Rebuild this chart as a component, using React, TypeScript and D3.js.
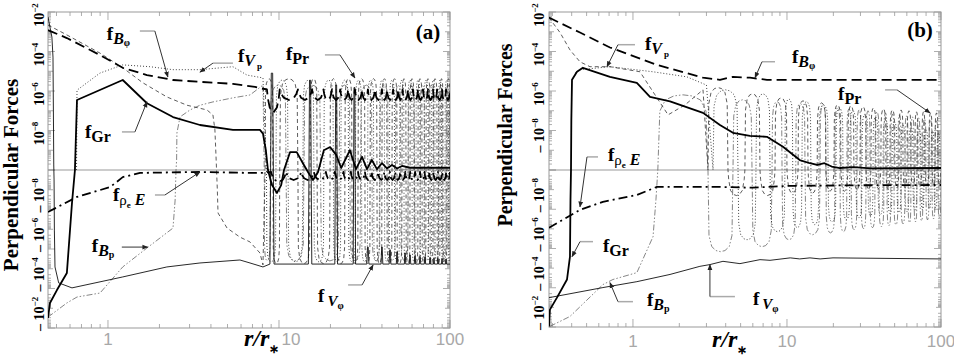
import React from 'react';
import * as d3 from 'd3';

type P = [number, number];

const W = 954;
const H = 357;
const SERIF = "'Liberation Serif','Times New Roman',Times,serif";
const SANS = "'Liberation Sans',Arial,Helvetica,sans-serif";

// ---------------- axis data ----------------
const xTickValues = [1, 10, 100];
const xTickLabels = ['1', '10', '100'];
const yLabelExps = [-2, -4, -6, -8];

// ---------------- panel (a) series: [r/r*, force] ----------------
const fBphiA: P[] = [[0.446, 1.2e-3], [0.575, 4.8e-4], [0.898, 6.6e-5], [1.22, 1.5e-5], [1.69, 6.4e-6], [2.4, 3.6e-6], [3.45, 2.9e-6], [5.38, 2.3e-6], [7.24, 1.6e-6], [8.06, 1.3e-6]];
const fBphiA_nodes = [8.5, 10.1, 12.9, 15.6, 18.2, 20.4, 22.8, 25.4, 27.8, 30.6, 33.1, 36.4, 40.0, 42.8, 46.5, 49.8, 52.8, 56.8, 60.7, 65.0, 69.5, 74.4, 79.6, 84.0, 89.8, 94.8, 100];
const fBphiA_cusp = [1.2e-6];
const fBphiA_mid = [8e-8, 3.5e-7];

const fPrA: P[] = [[0.446, 2.2e-3], [0.575, 6.9e-4], [0.898, 8.3e-5], [1.22, 1.5e-5], [1.6, 2.6e-6], [2.21, 5e-7], [2.9, 1.9e-7], [3.79, 1.1e-7], [4.11, 6.1e-8], [4.22, 1.07e-8], [4.28, 5.8e-10], [4.36, -1e-9], [4.4, -1.5e-8], [4.97, -8.7e-8], [5.91, -2.5e-7], [6.77, -4.4e-7], [7.74, -1.6e-6], [8.06, -6.4e-6]];
const fPrA_nodes = [8.3, 9.22, 10.1, 12.9, 15.2, 16.7, 19.9, 21.8, 24.3, 26.7, 29.0, 31.8, 34.1, 37.4, 40.0, 42.8, 45.8, 49.0, 52.4, 55.3, 58.4, 61.6, 65.0, 68.6, 72.4, 76.4, 79.6, 84.0, 87.5, 91.0, 96.0, 100];
const fPrA_peaks = [4.2e-6, -5.5e-6];

const fVpA: P[] = [[0.655, 5e-11], [0.659, 1.1e-6], [0.898, 8.1e-6], [1.22, 2.1e-5], [1.76, 1.7e-5], [2.4, 1.2e-5], [3.45, 1.2e-5], [5.38, 1.7e-5], [6.5, 6.4e-6], [8.06, 4.6e-6]];
const fVpA_nodes = [8.45, 9.6, 11.3, 13.8, 16.0, 18.3, 20.8, 23.0, 25.5, 28.0, 30.4, 33.0, 35.8, 38.7, 41.4, 44.3, 47.4, 50.7, 53.8, 56.8, 60.0, 63.3, 66.8, 70.5, 74.4, 78.0, 81.8, 85.7, 89.2, 93.5, 98.0, 100];
const fVpA_peaks = [-4.5e-6, 3.6e-6];

const fBpA: P[] = [[0.446, -2.8e-3], [0.575, -5.4e-4], [0.659, -2.7e-4], [0.898, -1.7e-4], [1.22, -8.1e-6], [1.69, -8.9e-7], [2.4, -8.7e-8], [2.47, -3.3e-9], [2.5, 5e-11], [2.52, 3.2e-10], [2.53, 7.5e-9], [2.64, 4.9e-8], [3.02, 1.1e-7], [3.45, 1.9e-7], [4.11, 2.8e-7], [5.38, 4.5e-7], [6.77, 6.3e-7], [8.06, 2e-6]];
const fBpA_nodes = [8.2, 8.9, 11.0, 14.0, 17.5, 22.5, 26.0, 30.0, 35.0, 39.0, 43.5, 48.0, 51.5, 57.0, 62.0, 67.0, 71.0, 75.0, 80.5, 86.0, 90.0, 95.0, 100];
const fBpA_peaks = [-4e-6, 2e-6];

const fGrA: P[] = [[0.446, -3.1e-3], [0.458, -5.4e-4], [0.503, -1.2e-4], [0.575, -1.65e-5], [0.616, -4.7e-9], [0.641, 5e-11], [0.659, 3.5e-7], [1.22, 3.6e-6], [1.69, 2.4e-7], [2.4, 4.8e-8], [3.45, 1.9e-8], [5.38, 1.07e-8], [7.74, 1.07e-8], [8.06, 7e-9], [8.38, 1e-9], [8.62, 5e-11], [9.1, -5.8e-10], [9.73, -1.45e-9], [10.3, -5.8e-10], [10.7, 5e-11], [11.6, 8e-10], [12.7, 8e-10], [13.8, 2.2e-10], [14.8, -1.3e-10], [15.8, -3.2e-10], [16.9, -1.3e-10], [18.3, 1e-9], [19.9, 1.45e-9], [21.6, 5.8e-10], [23.1, 1.26e-10], [26.0, 1e-9], [28.2, 1.1e-10], [30.6, 4.6e-10], [32.7, 1.1e-10], [34.9, 3.2e-10], [37.4, 1.1e-10], [40.0, 2.2e-10], [42.8, 1.2e-10], [45.8, 1.8e-10], [49.0, 1.2e-10], [52.4, 1.6e-10], [58.4, 1.3e-10], [100, 1.3e-10]];

const fVphiA: P[] = [[0.446, 5.6e-3], [0.47, 5.4e-4], [0.477, 5.2e-5], [0.48, 3.4e-8], [0.482, 1.8e-10], [0.484, -3.2e-10], [0.486, -1.1e-7], [0.49, -8.1e-6], [0.515, -5.2e-5], [0.616, -9.3e-5], [1.22, -2.6e-5], [2.21, -8.1e-6], [3.45, -5.1e-6], [5.91, -3.6e-6], [6.77, -5.1e-6], [8.06, -8.1e-6]];
const fVphiA_level = -5.8e-6;
// [r, peak value, half width in decades]
const fVphiA_spikes: [number, number, number][] = [[9.1, 8e-6, 0.012], [15.2, 3.5e-6, 0.01], [21.6, 2e-6, 0.008], [27.6, 1.5e-6, 0.007], [33.1, -8e-7, 0.006], [40.0, -8e-7, 0.005], [44.6, -1.1e-6, 0.005], [49.0, -1.4e-6, 0.004], [54.6, -1.6e-6, 0.004], [58.4, -2e-6, 0.004], [62.4, -2.2e-6, 0.004], [66.8, -2.4e-6, 0.004], [71.4, -2.5e-6, 0.004], [76.4, -2.7e-6, 0.003], [80.6, -2.8e-6, 0.003], [85.1, -3e-6, 0.003], [89.8, -3e-6, 0.003], [94.8, -3.2e-6, 0.003]];

const fRhoEA: P[] = [[0.446, -1.35e-8], [0.659, -2.3e-9], [1.03, -7.3e-10], [1.22, -2.3e-10], [1.54, -1.4e-10], [3.45, -1.26e-10], [6.77, -1.4e-10], [8.06, -1.4e-10]];
const fRhoEA_nodes = [9.0, 11.0, 13.5, 16.0, 18.8, 21.2, 23.8, 26.3, 29.0, 31.8, 34.8, 38.0, 41.3, 44.5, 47.8, 51.2, 54.8, 58.5, 62.5, 66.8, 71.0, 75.5, 80.0, 85.0, 90.0, 95.0, 100];
const fRhoEA_cusp = [-1.26e-10];
const fRhoEA_mid = [-4e-10, -3.2e-10];

// ---------------- panel (b) series ----------------
const fBphiB: P[] = [[0.285, 5.2e-3], [0.453, 9.1e-4], [0.709, 1.6e-4], [1.43, 2.1e-5], [2.85, 4.7e-6], [3.67, 3.7e-6], [4.46, 5.2e-6], [5.75, 4.7e-6], [7.41, 3.7e-6], [100, 3.7e-6]];

const fPrB: P[] = [[0.285, 5.2e-3], [0.336, 9.1e-4], [0.39, 1.2e-4], [0.453, 3e-5], [0.526, 1.7e-5], [0.709, 1.7e-5], [1.11, 9.4e-6], [1.39, 6.4e-7], [1.69, 6.2e-8], [2.18, 2e-7], [2.85, 1.15e-6]];
const fPrB_nodes = [3.07, 4.14, 5.33, 6.68, 8.36, 10.0, 11.8, 13.7, 15.7, 17.9, 20.2, 22.4, 24.9, 27.2, 29.8, 32.6, 35.1, 37.8, 40.7, 43.9, 46.6, 50.2, 53.4, 56.7, 60.2, 63.8, 67.8, 70.9, 75.3, 78.7, 83.6, 87.5, 91.5, 95.7, 100];
const fPrB_peaks = [1.5e-6, -2e-9, 7.2e-7, -2e-9, 4.5e-7, -1.5e-9, 3.2e-7, -1.5e-9, 2.5e-7, -1.2e-9, 2e-7, -1.2e-9, 1.8e-7, -1e-9, 1.6e-7, -1e-9, 1.4e-7, -9e-10, 1.25e-7, -9e-10, 1.1e-7, -8e-10, 1.1e-7, -8e-10, 1e-7, -7e-10, 8.8e-8, -7e-10, 8.8e-8, -6e-10, 7.8e-8, -6e-10, 7.8e-8, -6e-10];

const fVpB: P[] = [[0.42, 8e-6], [0.453, 1.2e-5], [0.709, 1.7e-5], [1.35, 9.4e-6], [2.24, 5.2e-6], [3.0, 2e-6]];
const fVpB_nodes = [3.31, 4.81, 6.29, 7.76, 9.7, 10.9, 12.5, 14.3, 16.1, 18.5, 20.8, 23.1, 25.6, 28.1, 30.7, 33.6, 36.2, 39.0, 42.0, 45.3, 48.1, 51.8, 55.0, 58.4, 62.0, 65.8, 69.8, 74.1, 77.6, 82.4, 86.1, 90.2, 94.2, 98.6];
const fVpB_peaks = [1.15e-6, -3.6e-7, 7.2e-7, -1.4e-7, 4e-7, -8.7e-8, 2.9e-7, -6.2e-8, 2e-7, -4.4e-8, 1.4e-7, -3.5e-8, 1e-7, -2.8e-8, 6.9e-8, -2.2e-8, 4.9e-8, -1.9e-8, 3.5e-8, -1.7e-8, 2.7e-8, -1.5e-8, 1.9e-8, -1.35e-8, 1.5e-8, -1.2e-8, 1.2e-8, -1.07e-8, 1.07e-8, -9.5e-9, 9.5e-9, -8.5e-9, 7.6e-9];

const fBpB: P[] = [[0.289, -9.3e-3], [0.39, -2.9e-3], [0.638, -6.9e-5], [0.741, -3.8e-5], [1.06, -1.7e-5], [1.35, -2.5e-7], [1.41, -3.3e-9]];
const fBpB_nodes = [1.45, 3.07, 4.46, 5.93, 8.0, 9.29, 11.4, 13.1, 16.4, 17.9, 20.5, 22.1, 24.5, 26.1, 28.5, 30.3, 32.6, 34.6, 37.3, 39.6, 42.6, 44.6, 47.3, 49.5, 52.6, 55.0, 58.4, 61.1, 63.8, 66.8, 69.8, 73.1, 76.4, 79.9, 83.6, 87.5, 91.5, 95.7, 100];
const fBpB_peaks = [6.4e-7, -1.45e-6, 3.6e-7, -8.1e-7, 2.9e-7, -3.6e-7, 2.3e-7, -2e-7, 1.8e-7, -1.6e-7, 1.4e-7, -1.4e-7, 1.25e-7, -1.1e-7, 1.1e-7, -9.8e-8, 1e-7, -8.7e-8, 8.8e-8, -7.8e-8, 7.8e-8, -6.9e-8, 6.9e-8, -6.2e-8, 6.2e-8, -5.5e-8, 5.5e-8, -4.9e-8, 4.9e-8, -4.4e-8, 4.4e-8, -3.9e-8, 3.9e-8, -3.5e-8, 3.5e-8, -3.1e-8, 3.1e-8, -2.8e-8];

const fGrB: P[] = [[0.285, -9.3e-3], [0.289, -1.3e-3], [0.321, -3.2e-4], [0.373, -3.8e-5], [0.39, -2.6e-6], [0.393, -3.3e-9], [0.396, 5e-11], [0.398, 3.4e-8], [0.402, 3.7e-6], [0.433, 9.4e-6], [0.473, 1.5e-5], [0.709, 5.2e-6], [1.06, 2.6e-6], [1.29, 5.1e-7], [1.74, 3e-7], [2.85, 7.8e-8], [3.67, 1.9e-8], [4.46, 7.6e-9], [5.75, 5.4e-9], [7.41, 4.8e-9], [9.42, 1.5e-9], [12.1, 3.2e-10], [14.1, 2.2e-10], [15.7, 1.8e-10], [17.5, 2.2e-10], [19.5, 1.5e-10], [22.1, 1.26e-10], [27, 1.4e-10], [35, 1.2e-10], [100, 1.26e-10]];

const fVphiB: P[] = [[0.285, -3.2e-4], [0.638, -9.8e-5], [1.06, -4.9e-5], [1.74, -2.1e-5], [2.72, -8.1e-6], [3.16, -6.6e-6], [3.84, -4.5e-6], [4.95, -5.9e-6], [6.68, -3.7e-6], [7.76, -4e-6], [10.5, -3e-6], [12.1, -3.4e-6], [14.1, -3e-6], [16.4, -3.4e-6], [19.9, -3e-6], [100, -3.4e-6]];

const fRhoEB: P[] = [[0.285, -8.7e-8], [0.453, -1.07e-8], [0.638, -4.2e-9], [1.06, -1.86e-9], [1.43, -7.3e-10], [3.67, -7.3e-10], [6, -8e-10], [10, -6.5e-10], [30, -6e-10], [100, -5.8e-10]];

// ---------------- shape templates (fraction of the span, fraction of the peak) ----------------
const ARCH: P[] = [[0, 0], [0.04, 0.15], [0.15, 0.55], [0.32, 0.88], [0.5, 1], [0.68, 0.88], [0.85, 0.55], [0.96, 0.15], [1, 0]];
const SCALLOP: P[] = [[0, 0], [0.08, 0.4], [0.22, 0.78], [0.5, 1], [0.78, 0.78], [0.92, 0.4], [1, 0]];

function arches(nodes: number[], peaks: number[]): P[] {
  const out: P[] = [];
  for (let i = 0; i < nodes.length - 1; i++) {
    const a = Math.log10(nodes[i]);
    const b = Math.log10(nodes[i + 1]);
    const pk = peaks[i % peaks.length];
    ARCH.forEach(([t, s], k) => {
      if (i > 0 && k === 0) return;
      out.push([Math.pow(10, a + (b - a) * t), pk * s]);
    });
  }
  return out;
}

function scallops(nodes: number[], cusp: number[], mid: number[]): P[] {
  const out: P[] = [];
  for (let i = 0; i < nodes.length - 1; i++) {
    const a = Math.log10(nodes[i]);
    const b = Math.log10(nodes[i + 1]);
    const c = cusp[Math.min(i, cusp.length - 1)];
    const m = mid[Math.min(i, mid.length - 1)];
    const sg = Math.sign(c);
    const lc = Math.log10(Math.abs(c));
    const lm = Math.log10(Math.abs(m));
    SCALLOP.forEach(([t, s], k) => {
      if (i > 0 && k === 0) return;
      out.push([Math.pow(10, a + (b - a) * t), sg * Math.pow(10, lc + (lm - lc) * s)]);
    });
  }
  return out;
}

function spikes(level: number, list: [number, number, number][], end: number): P[] {
  const out: P[] = [];
  list.forEach(([r, pk, w]) => {
    out.push([r * Math.pow(10, -w), level]);
    out.push([r * Math.pow(10, -w / 3), pk]);
    out.push([r * Math.pow(10, w / 3), pk]);
    out.push([r * Math.pow(10, w), level]);
  });
  out.push([end, level]);
  return out;
}

// ---------------- styles ----------------
type Kind = 'Bphi' | 'Pr' | 'Vp' | 'Gr' | 'Vphi' | 'rhoE' | 'Bp';
const STYLE: Record<Kind, { stroke: string; width: number; dash?: string }> = {
  Bphi: { stroke: '#000', width: 1.8, dash: '10,5' },
  Pr: { stroke: '#333', width: 0.8, dash: '4,3' },
  Vp: { stroke: '#444', width: 1, dash: '1,2' },
  Gr: { stroke: '#000', width: 1.8 },
  Vphi: { stroke: '#111', width: 0.9 },
  rhoE: { stroke: '#000', width: 1.8, dash: '9,4,2,4' },
  Bp: { stroke: '#666', width: 0.8, dash: '6,2,1.5,2,1.5,2' },
};

const seriesA: { kind: Kind; data: P[] }[] = [
  { kind: 'Bp', data: [...fBpA, ...arches(fBpA_nodes, fBpA_peaks)] },
  { kind: 'Vp', data: [...fVpA, ...arches(fVpA_nodes, fVpA_peaks)] },
  { kind: 'Pr', data: [...fPrA, ...arches(fPrA_nodes, fPrA_peaks)] },
  { kind: 'Vphi', data: [...fVphiA, ...spikes(fVphiA_level, fVphiA_spikes, 100)] },
  { kind: 'rhoE', data: [...fRhoEA, ...scallops(fRhoEA_nodes, fRhoEA_cusp, fRhoEA_mid)] },
  { kind: 'Bphi', data: [...fBphiA, ...scallops(fBphiA_nodes, fBphiA_cusp, fBphiA_mid)] },
  { kind: 'Gr', data: fGrA },
];

const seriesB: { kind: Kind; data: P[] }[] = [
  { kind: 'Bp', data: [...fBpB, ...arches(fBpB_nodes, fBpB_peaks)] },
  { kind: 'Vp', data: [...fVpB, ...arches(fVpB_nodes, fVpB_peaks)] },
  { kind: 'Pr', data: [...fPrB, ...arches(fPrB_nodes, fPrB_peaks)] },
  { kind: 'Vphi', data: fVphiB },
  { kind: 'rhoE', data: fRhoEB },
  { kind: 'Bphi', data: fBphiB },
  { kind: 'Gr', data: fGrB },
];

// annotations: tip in data coords, then pixel offsets of elbow, line start, and label
type Ann = { kind: Kind; tip: P; elbow: P; start: P; label: P };
const annA: Ann[] = [
  { kind: 'Bphi', tip: [2.24, 5.1e-6], elbow: [-13, -46], start: [-28, -46], label: [-61, -37] },
  { kind: 'Vp', tip: [3.45, 9e-6], elbow: [13, -9], start: [33, -9], label: [38, -10] },
  { kind: 'Pr', tip: [27.8, 4.6e-6], elbow: [-15, -23], start: [-30, -23], label: [-69, -18] },
  { kind: 'Gr', tip: [1.69, 2.8e-7], elbow: [-12, 30], start: [-25, 30], label: [-62, 36] },
  { kind: 'rhoE', tip: [3.45, -1.26e-10], elbow: [-35, 23], start: [-45, 23], label: [-87, 29] },
  { kind: 'Bp', tip: [1.71, -8e-7], elbow: [-26, 0], start: [-26, 0], label: [-56, 5] },
  { kind: 'Vphi', tip: [35.5, -6.4e-6], elbow: [-11, 20], start: [-25, 20], label: [-55, 37] },
];
const annB: Ann[] = [
  { kind: 'Vp', tip: [0.678, 1.7e-5], elbow: [11, -22], start: [28, -22], label: [38, -17] },
  { kind: 'rhoE', tip: [0.453, -7.6e-9], elbow: [7, -50], start: [18, -50], label: [28, -46] },
  { kind: 'Gr', tip: [0.402, -2.6e-6], elbow: [8, -15], start: [21, -15], label: [31, -5] },
  { kind: 'Bp', tip: [0.709, -5.5e-5], elbow: [8, 19], start: [23, 19], label: [37, 23] },
  { kind: 'Bphi', tip: [6.2, 4.7e-6], elbow: [7, -16], start: [20, -16], label: [37, -15] },
  { kind: 'Pr', tip: [84.9, 7.8e-8], elbow: [-33, -23], start: [-45, -23], label: [-92, -13] },
  { kind: 'Vphi', tip: [3.16, -6.6e-6], elbow: [0, 32], start: [25, 32], label: [43, 40] },
];

function LabelText({ kind, x, y }: { kind: Kind; x: number; y: number }) {
  const common = { x, y, fontFamily: SERIF, fontWeight: 'bold' as const, fontSize: 19, fill: '#000' };
  switch (kind) {
    case 'Bphi':
      return (<text {...common}>f<tspan fontStyle="italic" fontSize={16} dy={4}>B</tspan><tspan fontSize={10} dy={2}>φ</tspan></text>);
    case 'Vp':
      return (<text {...common}>f<tspan fontStyle="italic" fontSize={16} dy={4}>V</tspan><tspan fontSize={9} dy={3} dx={2}>p</tspan></text>);
    case 'Pr':
      return (<text {...common}>f<tspan fontSize={16} dy={4}>Pr</tspan></text>);
    case 'Gr':
      return (<text {...common}>f<tspan fontSize={16} dy={4}>Gr</tspan></text>);
    case 'rhoE':
      return (<text {...common}>f<tspan fontSize={15} fontWeight="normal" dy={4}>ρ</tspan><tspan fontSize={9} dy={3}>e</tspan><tspan fontStyle="italic" fontSize={16} dy={-3}> E</tspan></text>);
    case 'Bp':
      return (<text {...common}>f<tspan fontStyle="italic" fontSize={16} dy={4}>B</tspan><tspan fontSize={10} dy={2}>p</tspan></text>);
    case 'Vphi':
      return (<text {...common}>f<tspan fontStyle="italic" fontSize={15} dy={4} dx={3}>V</tspan><tspan fontSize={10} dy={3}>φ</tspan></text>);
  }
}

type Cfg = {
  id: string;
  left: number; right: number; top: number; center: number; bottom: number;
  xDomain: [number, number];
  series: { kind: Kind; data: P[] }[];
  ann: Ann[];
  yLabelX: number;
  dashTop8: boolean;
  tag: string; tagX: number; tagY: number;
  xLabelY: number; xLabelDx: number[];
  titleX: number; titleY: number; titleSize: number;
  axisTitleX: number; axisTitleY: number;
};

function Panel({ c }: { c: Cfg }) {
  const x = d3.scaleLog().domain(c.xDomain).range([c.left, c.right]);
  const up = d3.scaleLinear().domain([-10, -2]).range([c.center, c.top]);
  const dn = d3.scaleLinear().domain([-10, -2]).range([c.center, c.bottom]);
  const y = (v: number) => {
    const a = Math.abs(v);
    if (a <= 1e-10) return c.center;
    const e = Math.min(Math.log10(a), -2);
    return v > 0 ? up(e) : dn(e);
  };
  const line = d3.line<P>().x((d) => x(d[0])).y((d) => y(d[1]));

  const yTicks: { p: number; len: number }[] = [];
  for (let e = -10; e <= -2; e++) {
    yTicks.push({ p: e, len: e % 2 === 0 ? 7 : 5 });
    if (e < -2) for (let k = 2; k <= 9; k++) yTicks.push({ p: e + Math.log10(k), len: 3 });
  }
  const xTicks: { v: number; len: number }[] = [];
  for (let d = -1; d <= 2; d++) {
    for (let k = 1; k <= 9; k++) {
      const v = k * Math.pow(10, d);
      if (v >= c.xDomain[0] * 0.999 && v <= c.xDomain[1] * 1.001) xTicks.push({ v, len: k === 1 ? 8 : 4 });
    }
  }
  const tickColor = '#999';
  return (
    <g>
      <defs>
        <clipPath id={`clip-${c.id}`}>
          <rect x={c.left} y={c.top} width={c.right - c.left} height={c.bottom - c.top} />
        </clipPath>
      </defs>
      <rect x={c.left} y={c.top} width={c.right - c.left} height={c.bottom - c.top} fill="none" stroke="#999" strokeWidth={1} />
      <line x1={c.left} x2={c.right} y1={c.center} y2={c.center} stroke="#999" strokeWidth={1} />
      {yTicks.map((t, i) => (
        <g key={`yt${i}`} stroke={tickColor} strokeWidth={0.8}>
          <line x1={c.left} x2={c.left + t.len} y1={up(t.p)} y2={up(t.p)} />
          <line x1={c.left} x2={c.left + t.len} y1={dn(t.p)} y2={dn(t.p)} />
          <line x1={c.right - t.len} x2={c.right} y1={up(t.p)} y2={up(t.p)} />
          <line x1={c.right - t.len} x2={c.right} y1={dn(t.p)} y2={dn(t.p)} />
        </g>
      ))}
      {xTicks.map((t, i) => (
        <g key={`xt${i}`} stroke={tickColor} strokeWidth={0.8}>
          <line x1={x(t.v)} x2={x(t.v)} y1={c.bottom} y2={c.bottom - t.len} />
          <line x1={x(t.v)} x2={x(t.v)} y1={c.top} y2={c.top + t.len} />
        </g>
      ))}
      {xTickValues.map((v, i) => (
        <text key={`xl${i}`} x={x(v) + c.xLabelDx[i]} y={c.xLabelY} textAnchor="middle" fontFamily={SANS} fontSize={17} fill="#a8a8a8">{xTickLabels[i]}</text>
      ))}
      {yLabelExps.map((e) => {
        const dash = c.dashTop8 && e === -8;
        const ty = dash ? up(e) + 22 : up(e) + 3;
        return (
          <text key={`yu${e}`} transform={`translate(${c.yLabelX},${ty}) rotate(-90)`} textAnchor={dash ? 'start' : 'middle'} fontFamily={SERIF} fontWeight="bold" fontSize={14} fill="#000">
            {dash ? '– 10' : '10'}<tspan fontSize={9} dy={-6}>{`−${-e}`}</tspan>
          </text>
        );
      })}
      {yLabelExps.map((e) => (
        <text key={`yd${e}`} transform={`translate(${c.yLabelX},${dn(e) + 3}) rotate(-90)`} textAnchor="start" fontFamily={SERIF} fontWeight="bold" fontSize={14} fill="#000">
          {'– 10'}<tspan fontSize={9} dy={-6}>{`−${-e}`}</tspan>
        </text>
      ))}
      <text transform={`translate(${c.titleX},${c.titleY}) rotate(-90)`} textAnchor="middle" fontFamily={SERIF} fontWeight="bold" fontSize={c.titleSize} fill="#000">Perpendicular Forces</text>
      <text x={c.axisTitleX} y={c.axisTitleY} fontFamily={SERIF} fontWeight="bold" fontStyle="italic" fontSize={24} fill="#000">r/r<tspan fontSize={12} dy={7} fontStyle="normal">∗</tspan></text>
      <text x={c.tagX} y={c.tagY} textAnchor="middle" fontFamily={SERIF} fontWeight="bold" fontSize={21} fill="#000">{c.tag}</text>
      <g clipPath={`url(#clip-${c.id})`}>
        {c.series.map((s, i) => (
          <path key={`s${i}`} d={line(s.data) || ''} fill="none" stroke={STYLE[s.kind].stroke} strokeWidth={STYLE[s.kind].width} strokeDasharray={STYLE[s.kind].dash} strokeLinejoin="round" />
        ))}
      </g>
      {c.ann.map((a, i) => {
        const tx = x(a.tip[0]);
        const ty = y(a.tip[1]);
        return (
          <g key={`a${i}`}>
            <line x1={tx + a.start[0]} y1={ty + a.start[1]} x2={tx + a.elbow[0]} y2={ty + a.elbow[1]} stroke="#aaa" strokeWidth={1.5} />
            <line x1={tx + a.elbow[0]} y1={ty + a.elbow[1]} x2={tx} y2={ty} stroke="#333" strokeWidth={1} markerEnd="url(#arr)" />
            <LabelText kind={a.kind} x={tx + a.label[0]} y={ty + a.label[1]} />
          </g>
        );
      })}
    </g>
  );
}

const panelA: Cfg = {
  id: 'a', left: 48, right: 450, top: 12, center: 170, bottom: 328,
  xDomain: [0.446, 100], series: seriesA, ann: annA, yLabelX: 44, dashTop8: false,
  tag: '(a)', tagX: 428, tagY: 39, xLabelY: 345, xLabelDx: [0, 12, 0],
  titleX: 18, titleY: 175, titleSize: 21,
  axisTitleX: 244, axisTitleY: 346,
};
const panelB: Cfg = {
  id: 'b', left: 549, right: 941, top: 12, center: 170, bottom: 327,
  xDomain: [0.285, 100], series: seriesB, ann: annB, yLabelX: 544, dashTop8: true,
  tag: '(b)', tagX: 920, tagY: 37, xLabelY: 347, xLabelDx: [0, 0, 0],
  titleX: 512, titleY: 135, titleSize: 20,
  axisTitleX: 712, axisTitleY: 347,
};

export default function App() {
  return (
    <svg width={W} height={H} viewBox={`0 0 ${W} ${H}`} style={{ position: 'absolute', left: 0, top: 0, background: '#fff' }}>
      <defs>
        <marker id="arr" viewBox="0 0 10 10" refX={9} refY={5} markerWidth={6} markerHeight={6} orient="auto">
          <path d="M0,1 L10,5 L0,9 z" fill="#222" />
        </marker>
      </defs>
      <rect x={0} y={0} width={W} height={H} fill="#fff" />
      <Panel c={panelA} />
      <Panel c={panelB} />
    </svg>
  );
}
